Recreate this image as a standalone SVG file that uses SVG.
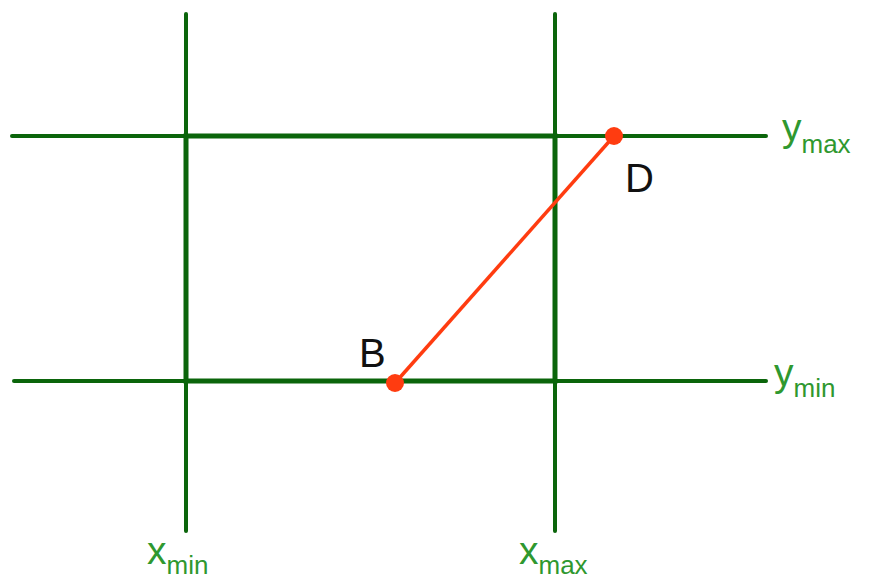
<svg xmlns="http://www.w3.org/2000/svg" width="873" height="581" viewBox="0 0 873 581">
<style>
.ln{stroke:#0b650b;stroke-width:4;stroke-linecap:round;fill:none}
.rect{stroke:#0b650b;stroke-width:5;fill:none}
.seg{stroke:#ff3c10;stroke-width:3.5;fill:none}
.pt{fill:#ff3c10}
.lbl{font-family:"Liberation Sans",Arial,sans-serif;fill:#2f982f}
.big{font-size:39px}
.sub{font-size:26px}
.pl{font-family:"Liberation Sans",Arial,sans-serif;font-size:40px;fill:#111}
</style>
<rect width="873" height="581" fill="#fff"/>
<g id="grid">
<line class="ln" x1="186" y1="14" x2="186" y2="531"/>
<line class="ln" x1="555" y1="14" x2="555" y2="531"/>
<line class="ln" x1="12" y1="136" x2="766" y2="136"/>
<line class="ln" x1="14" y1="381" x2="766" y2="381"/>
<rect class="rect" x="186" y="136" width="369" height="245"/>
</g>
<g id="connectors">
<line class="seg" x1="395" y1="383" x2="614" y2="136"/>
</g>
<g id="B"><circle class="pt" cx="395" cy="383" r="9"/><text class="pl" x="359" y="367">B</text></g>
<g id="D"><circle class="pt" cx="614" cy="136" r="9"/><text class="pl" x="625" y="192">D</text></g>
<g id="ymax"><text class="lbl" x="782" y="141"><tspan class="big">y</tspan><tspan class="sub" y="153">max</tspan></text></g>
<g id="ymin"><text class="lbl" x="774" y="386"><tspan class="big">y</tspan><tspan class="sub" y="397">min</tspan></text></g>
<g id="xmin"><text class="lbl" x="147" y="564"><tspan class="big">x</tspan><tspan class="sub" y="574">min</tspan></text></g>
<g id="xmax"><text class="lbl" x="519" y="564"><tspan class="big">x</tspan><tspan class="sub" y="574">max</tspan></text></g>
</svg>
